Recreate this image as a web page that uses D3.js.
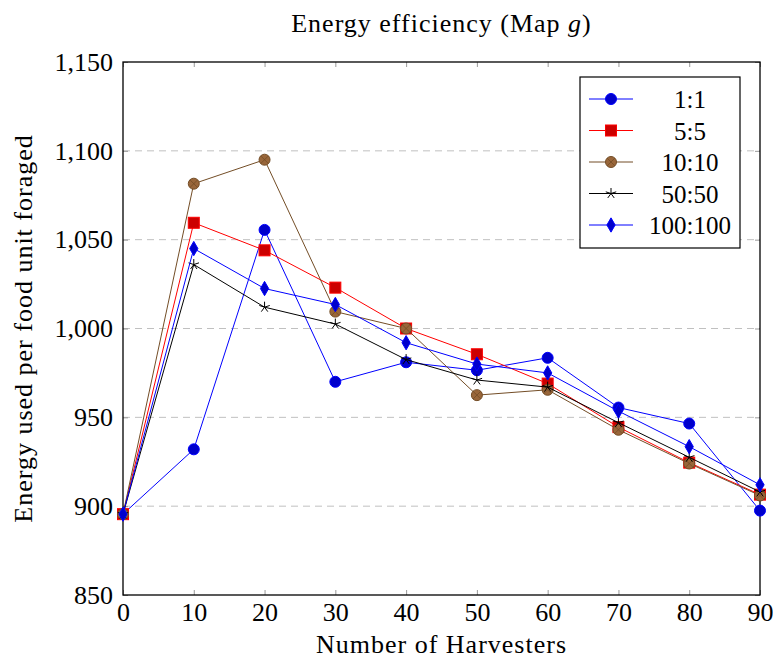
<!DOCTYPE html>
<html>
<head>
<meta charset="utf-8">
<script src="https://cdn.jsdelivr.net/npm/d3@7"></script>
<style>
  body { margin: 0; background: #fff; }
  text { font-family: "Liberation Serif", "DejaVu Serif", serif; }
</style>
</head>
<body>
<div id="wrapper"></div>
<script>
// data
const harvesters = [0, 10, 20, 30, 40, 50, 60, 70, 80, 90]
const seriesNames = ["1:1", "5:5", "10:10", "50:50", "100:100"]
const ratio1 = [895.5, 932, 1055.5, 970, 981, 976.5, 983.5, 955.5, 946.5, 897.5]
const ratio5 = [895.5, 1059.5, 1044, 1023, 1000, 985.5, 969, 944.5, 924.5, 906.5]
const ratio10 = [895.5, 1081.5, 1095, 1009.5, 1000, 962.5, 965.5, 943, 924, 906]
const ratio50 = [895.5, 1036, 1012, 1002.5, 982.5, 971, 967, 947, 927.5, 908]
const ratio100 = [895.5, 1045, 1022.5, 1013.5, 992, 980, 975, 953.5, 933.5, 912]
const xTicks = [0, 10, 20, 30, 40, 50, 60, 70, 80, 90]
const yTicks = [850, 900, 950, 1000, 1050, 1100, 1150]

const seriesValues = [ratio1, ratio5, ratio10, ratio50, ratio100]
const styles = [
  {line: "#0000ff", fill: "#0000cc", stroke: "#0000ff", mark: "circle"},
  {line: "#ff0000", fill: "#cc0000", stroke: "#ff0000", mark: "square"},
  {line: "#734d26", fill: "#99663a", stroke: "#734d26", mark: "otimes"},
  {line: "#000000", fill: "none", stroke: "#000000", mark: "star"},
  {line: "#0000ff", fill: "#0000cc", stroke: "#0000ff", mark: "diamond"},
]

const dimensions = {
  width: 773,
  height: 661,
  margin: {top: 62, right: 13, bottom: 66, left: 123},
}
dimensions.boundedWidth = dimensions.width - dimensions.margin.left - dimensions.margin.right
dimensions.boundedHeight = dimensions.height - dimensions.margin.top - dimensions.margin.bottom

const svg = d3.select("#wrapper").append("svg")
    .attr("width", dimensions.width)
    .attr("height", dimensions.height)

const bounds = svg.append("g")
    .attr("transform", `translate(${dimensions.margin.left},${dimensions.margin.top})`)

const xScale = d3.scaleLinear().domain([0, 90]).range([0, dimensions.boundedWidth])
const yScale = d3.scaleLinear().domain([850, 1150]).range([dimensions.boundedHeight, 0])

// grid
bounds.selectAll(".grid")
  .data(yTicks.slice(1, -1))
  .enter().append("line")
    .attr("x1", 0).attr("x2", dimensions.boundedWidth)
    .attr("y1", d => yScale(d)).attr("y2", d => yScale(d))
    .attr("stroke", "#c0c0c0")
    .attr("stroke-dasharray", "7,5")

// axes
const fmt = d3.format(",")
const xAxis = bounds.append("g")
    .attr("transform", `translate(0,${dimensions.boundedHeight})`)
    .call(d3.axisBottom(xScale).tickValues(xTicks).tickSize(-5).tickPadding(8).tickFormat(fmt))
const xAxisTop = bounds.append("g")
    .call(d3.axisTop(xScale).tickValues(xTicks).tickSize(-5).tickFormat(""))
const yAxis = bounds.append("g")
    .call(d3.axisLeft(yScale).tickValues(yTicks).tickSize(-5).tickPadding(10).tickFormat(fmt))
const yAxisRight = bounds.append("g")
    .attr("transform", `translate(${dimensions.boundedWidth},0)`)
    .call(d3.axisRight(yScale).tickValues(yTicks).tickSize(-5).tickFormat(""))

;[xAxis, xAxisTop, yAxis, yAxisRight].forEach(ax => {
  ax.select(".domain").remove()
  ax.selectAll(".tick line").attr("stroke", "#999")
  ax.selectAll(".tick text")
      .style("font-family", "'Liberation Serif', serif")
      .style("font-size", "26px")
      .attr("fill", "#000")
})

bounds.append("rect")
    .attr("width", dimensions.boundedWidth)
    .attr("height", dimensions.boundedHeight)
    .attr("fill", "none")
    .attr("stroke", "#000")
    .attr("stroke-width", 1.3)

// markers
function drawMark(g, style, size) {
  const r = size || 5.5
  if (style.mark == "circle") {
    g.append("circle").attr("r", r)
        .attr("fill", style.fill).attr("stroke", style.stroke)
  } else if (style.mark == "square") {
    g.append("rect").attr("x", -r).attr("y", -r).attr("width", 2 * r).attr("height", 2 * r)
        .attr("fill", style.fill).attr("stroke", style.stroke)
  } else if (style.mark == "otimes") {
    g.append("circle").attr("r", r)
        .attr("fill", style.fill).attr("stroke", style.stroke)
    const k = r * 0.7
    g.append("path").attr("d", `M${-k},${-k}L${k},${k}M${-k},${k}L${k},${-k}`)
        .attr("stroke", style.stroke).attr("stroke-width", 0.8)
  } else if (style.mark == "star") {
    const rays = d3.range(5).map(i => {
      const a = -Math.PI / 2 + i * 2 * Math.PI / 5
      return `M0,0L${r * Math.cos(a)},${r * Math.sin(a)}`
    }).join("")
    g.append("path").attr("d", rays).attr("stroke", style.stroke).attr("stroke-width", 1)
  } else if (style.mark == "diamond") {
    g.append("path").attr("d", `M0,${-r * 1.3}L${r * 0.75},0L0,${r * 1.3}L${-r * 0.75},0Z`)
        .attr("fill", style.fill).attr("stroke", style.stroke)
  }
}

const lineGenerator = d3.line()
    .x((d, i) => xScale(harvesters[i]))
    .y(d => yScale(d))

seriesValues.forEach((values, si) => {
  const style = styles[si]
  bounds.append("path")
      .attr("d", lineGenerator(values))
      .attr("fill", "none")
      .attr("stroke", style.line)
      .attr("stroke-width", 1)
  values.forEach((v, i) => {
    const g = bounds.append("g")
        .attr("transform", `translate(${xScale(harvesters[i])},${yScale(v)})`)
    drawMark(g, style)
  })
})

// legend
const legend = svg.append("g").attr("transform", "translate(580,77)")
legend.append("rect")
    .attr("width", 160).attr("height", 171)
    .attr("fill", "#fff").attr("stroke", "#000").attr("stroke-width", 1.2)
seriesNames.forEach((name, i) => {
  const y = 22 + i * 31.5
  legend.append("line")
      .attr("x1", 9).attr("x2", 53).attr("y1", y).attr("y2", y)
      .attr("stroke", styles[i].line)
  drawMark(legend.append("g").attr("transform", `translate(31,${y})`), styles[i])
  legend.append("text")
      .attr("x", 110).attr("y", y + 9)
      .attr("text-anchor", "middle")
      .style("font-size", "25px")
      .text(name)
})

// labels
const title = svg.append("text")
    .attr("x", dimensions.margin.left + dimensions.boundedWidth / 2)
    .attr("y", 32)
    .attr("text-anchor", "middle")
    .style("font-size", "26px")
    .style("letter-spacing", "1px")
title.append("tspan").text("Energy efficiency (Map ")
title.append("tspan").style("font-style", "italic").text("g")
title.append("tspan").text(")")

svg.append("text")
    .attr("x", dimensions.margin.left + dimensions.boundedWidth / 2)
    .attr("y", 653)
    .attr("text-anchor", "middle")
    .style("font-size", "26px")
    .style("letter-spacing", "1px")
    .text("Number of Harvesters")

svg.append("text")
    .attr("transform", `translate(32,${dimensions.margin.top + dimensions.boundedHeight / 2}) rotate(-90)`)
    .attr("text-anchor", "middle")
    .style("font-size", "26px")
    .style("letter-spacing", "1px")
    .text("Energy used per food unit foraged")
</script>
</body>
</html>
